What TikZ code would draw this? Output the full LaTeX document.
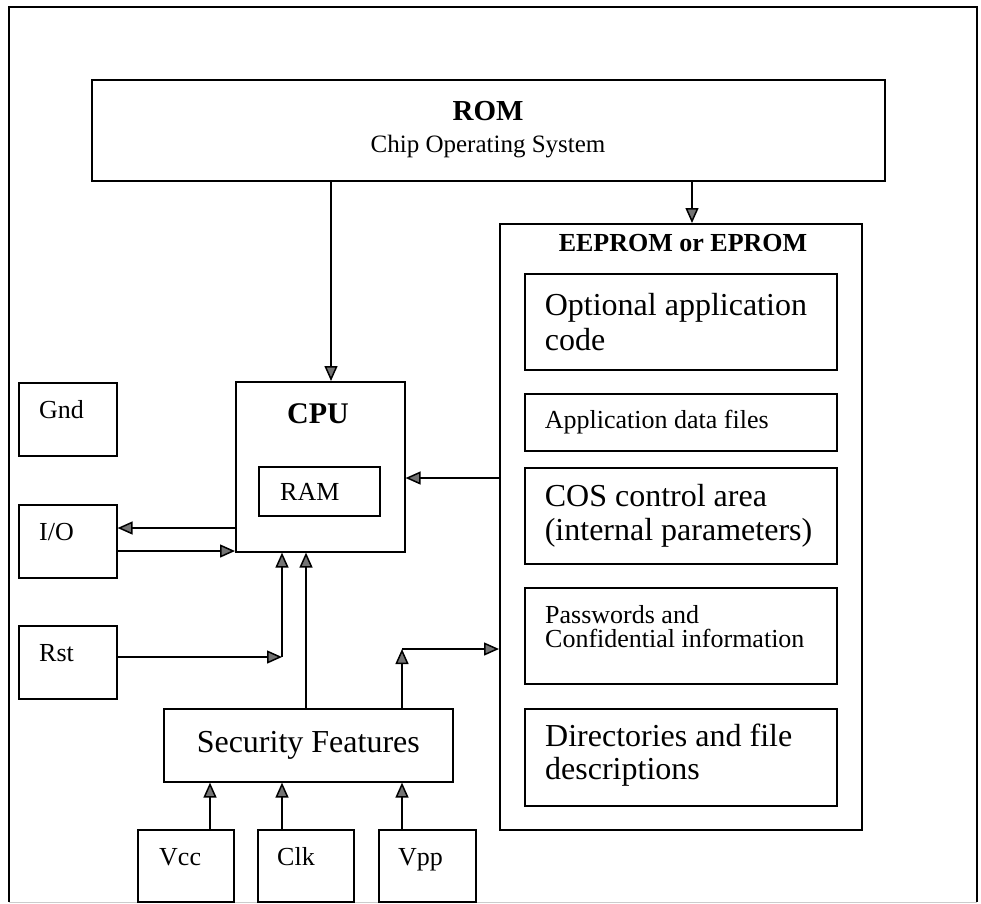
\documentclass[tikz,border=0pt]{standalone}
\usepackage{fontspec}
\setmainfont{Liberation Serif}
\usetikzlibrary{arrows.meta}
\newcommand{\fsz}[2]{\fontsize{#1}{#2}\selectfont}
\tikzset{
  box/.style={draw, line width=1.6pt, inner sep=0pt, anchor=north west},
  memblock/.style={box, minimum width=312pt, text width=272pt, align=flush left},
  arr/.style={line width=1.5pt, -{Triangle[length=15pt,width=13pt,fill=black!55]}},
  lbl/.style={inner sep=0pt},
  pin/.style={lbl, anchor=base west, font=\fsz{26}{26}},
}
\begin{document}
\begin{tikzpicture}[x=1pt,y=-1pt]
\useasboundingbox (0,0) rectangle (981,903);
% outer frame
\draw[line width=1.5pt] (9,902) -- (9,7) -- (977,7) -- (977,902);
\draw[line width=1pt, gray!40] (9,902) -- (977,902);

% ROM
\node[box, minimum width=793pt, minimum height=101pt] (rom) at (91,79) {};
\node[lbl] (romt) at (488,111) {\fsz{29}{29}\textbf{ROM}};
\node[lbl] (cost) at (488,147) {\fsz{25}{25}Chip Operating System};

% EEPROM block and its areas
\node[box, minimum width=362pt, minimum height=606pt] (eeprom) at (499,223) {};
\node[lbl, anchor=base] (eetitle) at (683,251) {\fsz{26}{26}\textbf{EEPROM or EPROM}};
\node[memblock, minimum height=96pt, font=\fsz{32}{35}] (opt) at (524,273)
  {Optional application\\code};
\node[memblock, minimum height=57pt, font=\fsz{26}{28}] (adf) at (524,393)
  {Application data files};
\node[memblock, minimum height=96pt, font=\fsz{32}{34}] (cos) at (524,467)
  {COS control area\\(internal parameters)};
\node[box, minimum width=312pt, minimum height=96pt] (pwd) at (524,587) {};
\node[lbl, anchor=west, align=flush left, font=\fsz{26}{24}] (pwdt) at (545,627)
  {Passwords and\\Confidential information};
\node[box, minimum width=312pt, minimum height=97pt] (dir) at (524,708) {};
\node[lbl, anchor=west, align=flush left, font=\fsz{32}{33}] (dirt) at (545,755)
  {Directories and file\\descriptions};

% CPU with RAM
\node[box, minimum width=169pt, minimum height=170pt] (cpu) at (235,381) {};
\node[lbl, anchor=base] (cputext) at (318,423) {\fsz{30}{30}\textbf{CPU}};
\node[box, minimum width=121pt, minimum height=49pt] (ram) at (258,466) {};
\node[pin] (ramt) at (280,500) {RAM};

% contacts
\node[box, minimum width=98pt, minimum height=73pt] (gnd) at (18,382) {};
\node[pin] (gndt) at (39,418) {Gnd};
\node[box, minimum width=98pt, minimum height=73pt] (io) at (18,504) {};
\node[pin] (iot) at (39,540) {I/O};
\node[box, minimum width=98pt, minimum height=73pt] (rst) at (18,625) {};
\node[pin] (rstt) at (39,661) {Rst};

\node[box, minimum width=289pt, minimum height=73pt, font=\fsz{32}{32}] (sec) at (163,708) {Security Features};

\node[box, minimum width=96pt, minimum height=72pt] (vcc) at (137,829) {};
\node[pin] (vcct) at (159,865) {Vcc};
\node[box, minimum width=96pt, minimum height=72pt] (clk) at (257,829) {};
\node[pin] (clkt) at (277,865) {Clk};
\node[box, minimum width=97pt, minimum height=72pt] (vpp) at (378,829) {};
\node[pin] (vppt) at (398,865) {Vpp};

% connector positions
\coordinate (xrc) at (331,0);
\coordinate (xre) at (692,0);
\coordinate (yec) at (0,478);
\coordinate (yco) at (0,528);
\coordinate (yic) at (0,551);
\coordinate (jr) at (282,657);
\coordinate (xsc) at (306,0);
\coordinate (js) at (402,649);
\coordinate (xv) at (210,0);
\coordinate (xc) at (282,0);
\coordinate (xp) at (402,0);

% connectors
\draw[arr] (rom.south -| xrc) -- (cpu.north -| xrc);
\draw[arr] (rom.south -| xre) -- (eeprom.north -| xre);
\draw[arr] (eeprom.west |- yec) -- (cpu.east |- yec);
\draw[arr] (cpu.west |- yco) -- (io.east |- yco);
\draw[arr] (io.east |- yic) -- (cpu.south west |- yic);
\draw[arr] (rst.east |- jr) -- (jr);
\draw[arr] (jr) -- (cpu.south -| jr);
\draw[arr] (sec.north -| xsc) -- (cpu.south -| xsc);
\draw[arr] (sec.north -| js) -- (js);
\draw[arr] (js) -- (eeprom.west |- js);
\draw[arr] (vcc.north -| xv) -- (sec.south -| xv);
\draw[arr] (clk.north -| xc) -- (sec.south -| xc);
\draw[arr] (vpp.north -| xp) -- (sec.south -| xp);
\end{tikzpicture}
\end{document}
